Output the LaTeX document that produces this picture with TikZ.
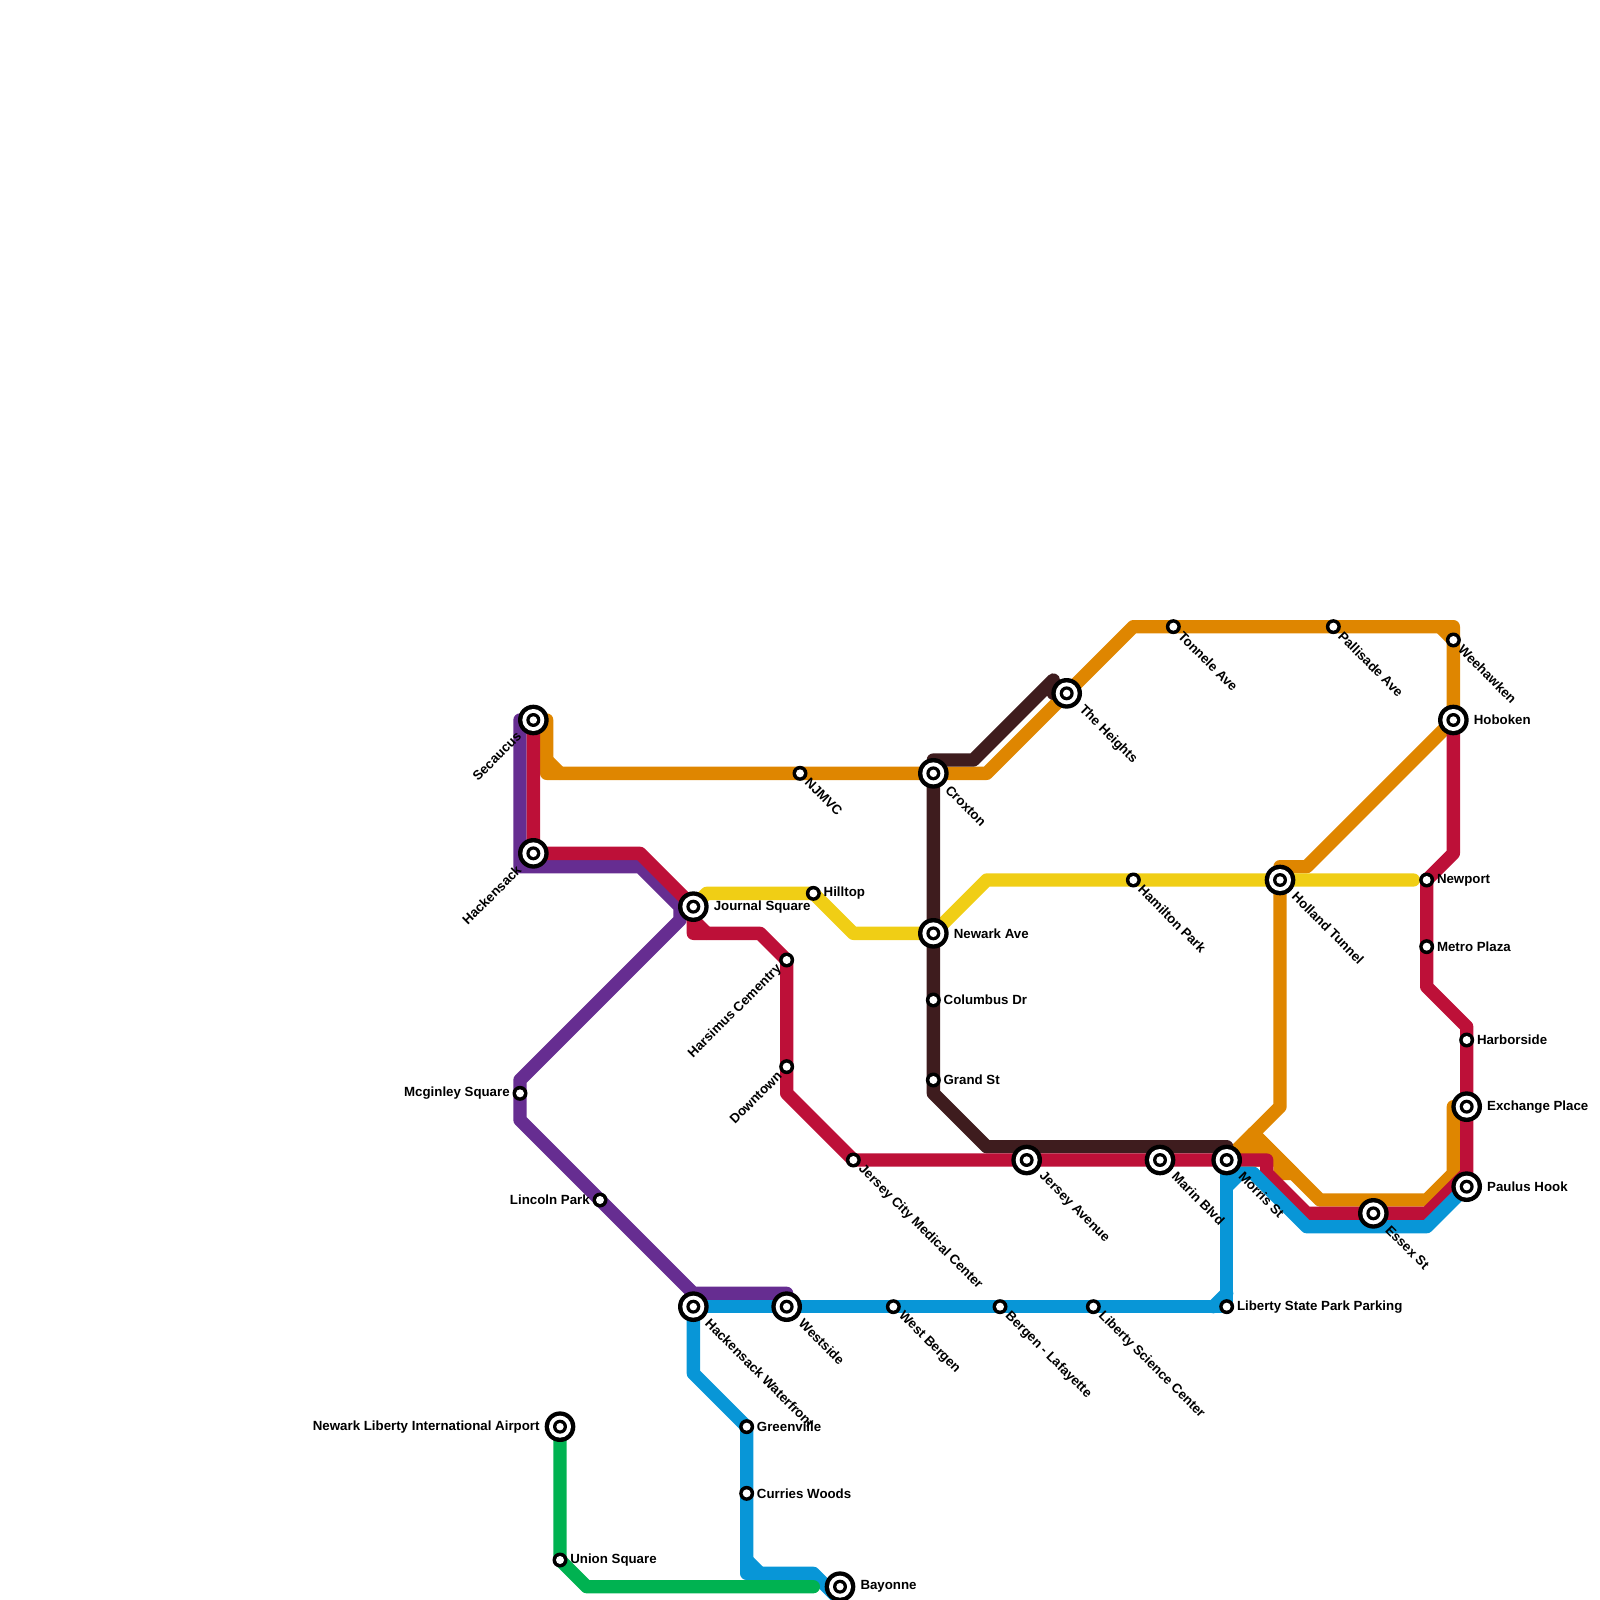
\documentclass[tikz,border=0pt]{standalone}
\usepackage{fontspec}
\setmainfont{Liberation Sans}
\usetikzlibrary{backgrounds}
\definecolor{lineorange}{RGB}{223,134,0}
\definecolor{linepurple}{RGB}{102,45,145}
\definecolor{linered}{RGB}{189,16,56}
\definecolor{lineyellow}{RGB}{240,206,21}
\definecolor{linebrown}{RGB}{62,28,30}
\definecolor{lineblue}{RGB}{8,150,215}
\definecolor{linegreen}{RGB}{0,178,81}

\begin{document}
\begin{tikzpicture}[
  x = 0.2cm, y = -0.2cm,
  track/.style   = {line width=0.2cm, line cap=round, line join=round},
  stop/.style    = {circle, inner sep=0pt, outer sep=0pt, minimum size=0.225cm, fill=black,
                    path picture={\fill[white] (path picture bounding box.center) circle (0.06cm);}},
  hub/.style     = {circle, inner sep=0pt, outer sep=0pt, minimum size=0.46cm, fill=black,
                    path picture={\fill[white] (path picture bounding box.center) circle (0.165cm);
                                  \fill[black] (path picture bounding box.center) circle (0.105cm);
                                  \fill[white] (path picture bounding box.center) circle (0.056cm);}},
  tag/.style     = {font=\bfseries\fontsize{5.67}{6.5}\selectfont, inner ysep=0pt, inner xsep=1pt},
  hubtag/.style  = {inner xsep=2pt},
  tage/.style    = {tag, anchor=west},
  tagw/.style    = {tag, anchor=east},
  tagse/.style   = {tag, rotate=-45, anchor=west},
  tagsw/.style   = {tag, rotate=45, anchor=east}
]
\useasboundingbox (0,0) rectangle (120,120);

% Interchanges
\node[hub] (secaucus)   at (40,54)  {};
\node[hub] (hackensack) at (40,64)  {};
\node[hub] (journal)    at (52,68)  {};
\node[hub] (waterfront) at (52,98)  {};
\node[hub] (westside)   at (59,98)  {};
\node[hub] (croxton)    at (70,58)  {};
\node[hub] (newark)     at (70,70)  {};
\node[hub] (heights)    at (80,52)  {};
\node[hub] (jerseyave)  at (77,87)  {};
\node[hub] (marin)      at (87,87)  {};
\node[hub] (morris)     at (92,87)  {};
\node[hub] (holland)    at (96,66)  {};
\node[hub] (hoboken)    at (109,54) {};
\node[hub] (exchange)   at (110,83) {};
\node[hub] (paulus)     at (110,89) {};
\node[hub] (essex)      at (103,91) {};
\node[hub] (airport)    at (42,107) {};
\node[hub] (bayonne)    at (63,119) {};

% Stops
\node[stop] (njmvc)     at (60,58)  {};
\node[stop] (hilltop)   at (61,67)  {};
\node[stop] (harsimus)  at (59,72)  {};
\node[stop] (downtown)  at (59,80)  {};
\node[stop] (mcginley)  at (39,82)  {};
\node[stop] (lincoln)   at (45,90)  {};
\node[stop] (medical)   at (64,87)  {};
\node[stop] (westbergen) at (67,98) {};
\node[stop] (lafayette) at (75,98)  {};
\node[stop] (science)   at (82,98)  {};
\node[stop] (parking)   at (92,98)  {};
\node[stop] (columbus)  at (70,75)  {};
\node[stop] (grand)     at (70,81)  {};
\node[stop] (tonnele)   at (88,47)  {};
\node[stop] (hamilton)  at (85,66)  {};
\node[stop] (pallisade) at (100,47) {};
\node[stop] (weehawken) at (109,48) {};
\node[stop] (newport)   at (107,66) {};
\node[stop] (metro)     at (107,71) {};
\node[stop] (harborside) at (110,78) {};
\node[stop] (union)     at (42,117) {};
\node[stop] (greenville) at (56,107) {};
\node[stop] (curries)   at (56,112) {};

% Lines
\begin{scope}[on background layer]
  \draw[track, linepurple] (39,54) -- (39,65) -- (48,65) -- (51,68) -- (51,69) -- (39,81)
    -- (39,84) -- (52,97) -- (59,97);
  \draw[track, lineorange] (41,54) -- (41,58) -- (croxton.center) -- (74,58) -- (85,47)
    -- (109,47) -- (hoboken.center);
  \draw[track, lineorange] (41,57) -- (42,58);
  \draw[track, lineorange] (108,47) -- (weehawken.center);
  \draw[track, lineorange] (hoboken.center) -- (98,65) -- (96,65) -- (96,83) -- (morris.center);
  \draw[track, lineorange, fill=lineorange] (94,85) -- (morris.center) -- (96,87) -- (96,88)
    -- (97,88) -- cycle;
  \draw[track, lineorange] (94,85) -- (99,90) -- (107,90) -- (109,88) -- (109,83);
  \draw[track, lineyellow] (journal.center) -- (53,67) -- (hilltop.center) -- (64,70)
    -- (newark.center) -- (74,66) -- (106,66);
  \draw[track, linebrown] (80,52) -- (79,52) -- (79,51) -- (73,57) -- (70,57) -- (70,82)
    -- (74,86) -- (92,86);
  \draw[track, linered] (secaucus.center) -- (hackensack.center) -- (48,64) -- (journal.center)
    -- (52,70) -- (57,70) -- (harsimus.center) -- (59,82) -- (medical.center) -- (95,87)
    -- (95,88) -- (98,91) -- (107,91) -- (110,88) -- (110,77) -- (107,74)
    -- (newport.center) -- (109,64) -- (hoboken.center);
  \draw[track, linered] (52,69) -- (53,70);
  \draw[track, lineblue] (waterfront.center) -- (parking.center) -- (morris.center);
  \draw[track, lineblue] (91,98) -- (92,97);
  \draw[track, lineblue] (92,89) -- (93,88);
  \draw[track, lineblue] (92,88) -- (94,88) -- (98,92) -- (107,92) -- (paulus.center);
  \draw[track, lineblue] (waterfront.center) -- (52,103) -- (greenville.center) -- (56,118)
    -- (61,118) -- (63,120);
  \draw[track, lineblue] (56,117) -- (57,118);
  \draw[track, linegreen] (airport.center) -- (union.center) -- (44,119) -- (61,119);
\end{scope}

% Labels
\node[tagsw, at=(secaucus.south west), hubtag]   (secaucustag)   {Secaucus};
\node[tagsw, at=(hackensack.south west), hubtag] (hackensacktag) {Hackensack};
\node[tage, at=(journal.east), hubtag]           (journaltag)    {Journal Square};
\node[tagse, at=(waterfront.south east), hubtag] (waterfronttag) {Hackensack Waterfront};
\node[tagse, at=(westside.south east), hubtag]   (westsidetag)   {Westside};
\node[tagse, at=(croxton.south east), hubtag]    (croxtontag)    {Croxton};
\node[tage, at=(newark.east), hubtag]            (newarktag)     {Newark Ave};
\node[tagse, at=(heights.south east), hubtag]    (heightstag)    {The Heights};
\node[tagse, at=(jerseyave.south east), hubtag]  (jerseyavetag)  {Jersey Avenue};
\node[tagse, at=(marin.south east), hubtag]      (marintag)      {Marin Blvd};
\node[tagse, at=(morris.south east), hubtag]     (morristag)     {Morris St};
\node[tagse, at=(holland.south east), hubtag]    (hollandtag)    {Holland Tunnel};
\node[tage, at=(hoboken.east), hubtag]           (hobokentag)    {Hoboken};
\node[tage, at=(exchange.east), hubtag]          (exchangetag)   {Exchange Place};
\node[tage, at=(paulus.east), hubtag]            (paulustag)     {Paulus Hook};
\node[tagse, at=(essex.south east), hubtag]      (essextag)      {Essex St};
\node[tagw, at=(airport.west), hubtag]           (airporttag)    {Newark Liberty International Airport};
\node[tage, at=(bayonne.east), hubtag]           (bayonnetag)    {Bayonne};

\node[tagse, at=(njmvc.south east)]      (njmvctag)      {NJMVC};
\node[tage, at=(hilltop.east)]           (hilltoptag)    {Hilltop};
\node[tagsw, at=(harsimus.south west)]   (harsimustag)   {Harsimus Cementry};
\node[tagsw, at=(downtown.south west)]   (downtowntag)   {Downtown};
\node[tagw, at=(mcginley.west)]          (mcginleytag)   {Mcginley Square};
\node[tagw, at=(lincoln.west)]           (lincolntag)    {Lincoln Park};
\node[tagse, at=(medical.south east)]    (medicaltag)    {Jersey City Medical Center};
\node[tagse, at=(westbergen.south east)] (westbergentag) {West Bergen};
\node[tagse, at=(lafayette.south east)]  (lafayettetag)  {Bergen - Lafayette};
\node[tagse, at=(science.south east)]    (sciencetag)    {Liberty Science Center};
\node[tage, at=(parking.east)]           (parkingtag)    {Liberty State Park Parking};
\node[tage, at=(columbus.east)]          (columbustag)   {Columbus Dr};
\node[tage, at=(grand.east)]             (grandtag)      {Grand St};
\node[tagse, at=(tonnele.south east)]    (tonneletag)    {Tonnele Ave};
\node[tagse, at=(hamilton.south east)]   (hamiltontag)   {Hamilton Park};
\node[tagse, at=(pallisade.south east)]  (pallisadetag)  {Pallisade Ave};
\node[tagse, at=(weehawken.south east)]  (weehawkentag)  {Weehawken};
\node[tage, at=(newport.east)]           (newporttag)    {Newport};
\node[tage, at=(metro.east)]             (metrotag)      {Metro Plaza};
\node[tage, at=(harborside.east)]        (harborsidetag) {Harborside};
\node[tage, at=(union.east)]             (uniontag)      {Union Square};
\node[tage, at=(greenville.east)]        (greenvilletag) {Greenville};
\node[tage, at=(curries.east)]           (curriestag)    {Curries Woods};

\end{tikzpicture}
\end{document}
